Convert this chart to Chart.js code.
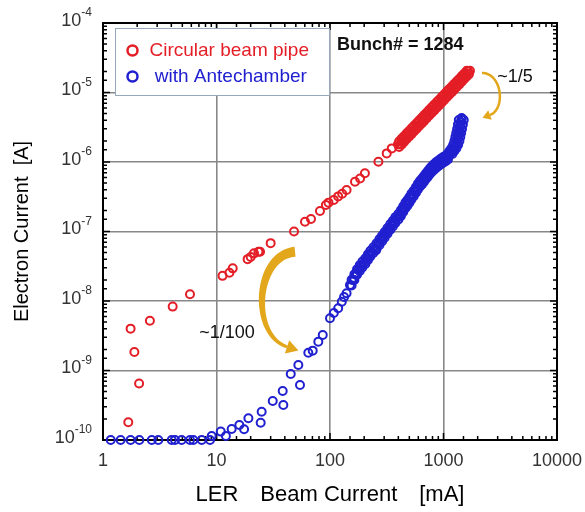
<!DOCTYPE html>
<html>
<head>
<meta charset="utf-8">
<script src="https://cdn.jsdelivr.net/npm/chart.js@4.4.0/dist/chart.umd.min.js"></script>
<style>
    body { margin: 0; background: #fff; }
</style>
</head>
<body>
<canvas id="chart" width="585" height="512"></canvas>
<script>
// circular beam pipe (red)
let circularX = [1.67, 1.75, 1.89, 2.08, 2.59, 4.11, 5.84, 11.3, 13.0, 13.9, 18.8, 20.0, 21.4, 23.4, 24.2, 30.0, 48.2,
    60.2, 68, 81.6, 92, 97, 108, 118, 128, 140, 166, 184, 203, 267, 316, 350,
    397, 418, 440, 462, 487, 512, 538, 566, 596, 627, 659, 694, 730, 768, 807, 851, 895, 942, 990, 1042,
    1096, 1153, 1213, 1276, 1343, 1413, 1486, 1563, 1644, 1711,
    430, 475, 525, 580, 640, 710, 790, 870, 965, 1070, 1180, 1310, 1450, 1600,
    407, 429, 451, 474, 499, 525, 552, 581, 611, 643, 676, 712, 749, 787, 829, 873, 918, 966, 1016, 1069,
    1124, 1183, 1244, 1309, 1378, 1449, 1524, 1603,
    407, 429, 451, 474, 499, 525, 552, 581, 611, 643, 676, 712, 749, 787, 829, 873, 918, 966, 1016, 1069,
    1124, 1183, 1244, 1309, 1378, 1449, 1524, 1603, 1677]
let circularY = [1.8e-10, 4.0e-9, 1.85e-9, 6.5e-10, 5.2e-9, 8.3e-9, 1.25e-8, 2.3e-8, 2.55e-8, 2.95e-8, 4.0e-8, 4.3e-8, 4.85e-8, 5.1e-8, 5.1e-8, 6.8e-8, 1.0e-7,
    1.38e-7, 1.51e-7, 1.97e-7, 2.4e-7, 2.6e-7, 2.85e-7, 3.2e-7, 3.5e-7, 3.95e-7, 5.2e-7, 5.8e-7, 6.9e-7, 1.01e-6, 1.33e-6, 1.57e-6,
    1.80e-6, 1.78e-6, 2.15e-6, 2.12e-6, 2.60e-6, 2.55e-6, 3.10e-6, 3.02e-6, 3.68e-6, 3.60e-6, 4.35e-6, 4.28e-6, 5.20e-6, 5.10e-6, 6.15e-6, 6.05e-6, 7.30e-6, 7.20e-6, 8.70e-6, 8.55e-6,
    1.03e-5, 1.01e-5, 1.22e-5, 1.20e-5, 1.45e-5, 1.44e-5, 1.72e-5, 1.71e-5, 2.03e-5, 2.05e-5,
    1.98e-6, 2.40e-6, 2.80e-6, 3.30e-6, 3.95e-6, 4.70e-6, 5.55e-6, 6.60e-6, 7.95e-6, 9.30e-6, 1.12e-5, 1.31e-5, 1.58e-5, 1.86e-5,
    1.99e-6, 2.17e-6, 2.37e-6, 2.59e-6, 2.82e-6, 3.07e-6, 3.36e-6, 3.65e-6, 3.98e-6, 4.33e-6, 4.73e-6, 5.17e-6, 5.63e-6, 6.14e-6, 6.69e-6, 7.29e-6, 7.95e-6, 8.67e-6, 9.45e-6, 1.03e-5,
    1.12e-5, 1.22e-5, 1.33e-5, 1.45e-5, 1.58e-5, 1.73e-5, 1.88e-5, 2.06e-5,
    1.65e-6, 1.79e-6, 1.96e-6, 2.14e-6, 2.33e-6, 2.54e-6, 2.78e-6, 3.02e-6, 3.29e-6, 3.59e-6, 3.91e-6, 4.28e-6, 4.66e-6, 5.08e-6, 5.53e-6, 6.03e-6, 6.58e-6, 7.17e-6, 7.82e-6, 8.52e-6,
    9.28e-6, 1.01e-5, 1.10e-5, 1.20e-5, 1.31e-5, 1.43e-5, 1.56e-5, 1.70e-5, 1.84e-5]

// with antechamber (blue)
let antechamberX = [1.17, 1.43, 1.75, 2.09, 2.69, 3.07, 4.03, 4.31, 4.93, 5.84, 6.25, 7.41, 8.77,
    9.07, 10.9, 12.1, 13.6, 15.9, 17.5, 19.1, 24.5, 25.0, 31.3, 38.3, 38.8, 45.1, 52.6, 54.4, 64.4, 70.4, 78.9, 86.3,
    100, 108, 118, 127, 133, 140, 150, 160, 169, 178, 188, 199, 211, 221, 234, 249, 265, 281, 295, 311, 331, 350, 366, 389,
    414, 431, 453, 472, 490, 512, 533, 561, 584, 608, 634, 664, 687, 716, 745, 776, 808, 841, 885, 931, 970, 1021, 1074,
    1117, 1164, 1213, 1262, 1302, 1329, 1349, 1377, 1397, 1426, 1446,
    255, 290, 325, 360, 400, 440, 480, 520, 570, 620, 675, 730, 790, 860, 950, 1045, 1140, 1240, 1315, 1360, 1410, 1440,
    155, 164, 173, 183, 193, 205, 216, 227, 241, 257, 273, 288, 303, 321, 340, 358, 377, 401, 422, 442, 462,
    481, 501, 522, 547, 572, 596, 621, 649, 675, 701, 730, 760, 792, 824, 863, 908, 950, 995, 1047, 1095,
    155, 164, 173, 183, 193, 205, 216, 227, 241, 257, 273, 288, 303, 321, 340, 358, 377, 401, 422, 442, 462,
    481, 501, 522, 547, 572, 596, 621, 649, 675, 701, 730, 760, 792, 824, 863, 908, 950, 995, 1047, 1095,
    1197, 1247, 1299, 1346, 1381, 1406, 1431, 1456, 1482, 1508,
    1083, 1129, 1175, 1218, 1249, 1272, 1295, 1318, 1340, 1364]
let antechamberY = [1e-10, 1e-10, 1e-10, 1e-10, 1e-10, 1e-10, 1e-10, 1e-10, 1e-10, 1e-10, 1e-10, 1e-10, 1e-10,
    1.14e-10, 1.32e-10, 1.14e-10, 1.44e-10, 1.64e-10, 1.43e-10, 2.05e-10, 1.77e-10, 2.55e-10, 3.64e-10, 5.07e-10, 3.19e-10, 8.9e-10, 1.2e-9, 6.2e-10, 1.8e-9, 1.93e-9, 2.6e-9, 3.24e-9,
    5.64e-9, 6.72e-9, 7.85e-9, 9.77e-9, 1.14e-8, 1.29e-8, 1.70e-8, 2.00e-8, 2.45e-8, 2.79e-8, 3.19e-8, 3.52e-8, 3.98e-8, 4.59e-8, 5.07e-8, 5.73e-8, 6.61e-8, 7.55e-8, 8.41e-8, 9.51e-8, 1.09e-7, 1.24e-7, 1.37e-7, 1.56e-7,
    1.73e-7, 1.97e-7, 2.25e-7, 2.49e-7, 2.68e-7, 3.03e-7, 3.35e-7, 3.74e-7, 4.23e-7, 4.67e-7, 5.07e-7, 5.51e-7, 5.98e-7, 6.50e-7, 7.06e-7, 7.67e-7, 8.20e-7, 8.75e-7, 9.35e-7, 1.00e-6, 1.05e-6, 1.10e-6, 1.16e-6,
    1.24e-6, 1.37e-6, 1.51e-6, 1.66e-6, 1.88e-6, 2.14e-6, 2.44e-6, 2.79e-6, 3.19e-6, 3.77e-6, 4.30e-6,
    5.4e-8, 8.2e-8, 1.02e-7, 1.33e-7, 1.62e-7, 2.12e-7, 2.60e-7, 3.12e-7, 3.98e-7, 4.80e-7, 5.80e-7, 6.80e-7, 7.95e-7, 9.00e-7, 1.03e-6, 1.12e-6, 1.30e-6, 1.58e-6, 2.00e-6, 2.60e-6, 3.45e-6, 4.10e-6,
    2.02e-8, 2.43e-8, 2.87e-8, 3.28e-8, 3.69e-8, 4.11e-8, 4.70e-8, 5.30e-8, 5.93e-8, 6.77e-8, 7.77e-8, 8.77e-8, 9.83e-8, 1.12e-7, 1.28e-7, 1.43e-7, 1.61e-7, 1.80e-7, 2.04e-7, 2.31e-7, 2.61e-7,
    2.84e-7, 3.14e-7, 3.51e-7, 3.89e-7, 4.38e-7, 4.88e-7, 5.36e-7, 5.82e-7, 6.31e-7, 6.86e-7, 7.45e-7, 8.10e-7, 8.72e-7, 9.32e-7, 9.96e-7, 1.06e-6, 1.12e-6, 1.18e-6, 1.24e-6, 1.32e-6,
    1.67e-8, 2.01e-8, 2.38e-8, 2.71e-8, 3.05e-8, 3.40e-8, 3.89e-8, 4.39e-8, 4.90e-8, 5.60e-8, 6.42e-8, 7.25e-8, 8.14e-8, 9.28e-8, 1.06e-7, 1.18e-7, 1.33e-7, 1.49e-7, 1.68e-7, 1.91e-7, 2.16e-7,
    2.35e-7, 2.59e-7, 2.90e-7, 3.22e-7, 3.62e-7, 4.04e-7, 4.43e-7, 4.81e-7, 5.22e-7, 5.68e-7, 6.16e-7, 6.70e-7, 7.22e-7, 7.71e-7, 8.24e-7, 8.80e-7, 9.28e-7, 9.74e-7, 1.03e-6, 1.09e-6,
    1.30e-6, 1.44e-6, 1.58e-6, 1.77e-6, 2.01e-6, 2.29e-6, 2.61e-6, 2.98e-6, 3.47e-6, 4.03e-6,
    1.30e-6, 1.44e-6, 1.58e-6, 1.77e-6, 2.01e-6, 2.29e-6, 2.61e-6, 2.98e-6, 3.47e-6, 4.03e-6]

let seriesNames = ["Circular beam pipe", " with Antechamber"]
let seriesColors = ["#e41e26", "#2020d0"]
let xTickLabels = [1, 10, 100, 1000, 10000]
let yTickExps = [-10, -9, -8, -7, -6, -5, -4]

const FONT = '"Liberation Sans", Arial, "Noto Sans CJK JP", sans-serif'
const GOLD = "#e3a71c"

function isDecade(v) {
    let l = Math.log10(v)
    return Math.abs(l - Math.round(l)) < 1e-6
}

function toPoints(xs, ys) {
    return xs.map((x, i) => ({ x: x, y: ys[i] }))
}

function bez(p0, c1, c2, p3, t) {
    let u = 1 - t
    return [
        u*u*u*p0[0] + 3*u*u*t*c1[0] + 3*u*t*t*c2[0] + t*t*t*p3[0],
        u*u*u*p0[1] + 3*u*u*t*c1[1] + 3*u*t*t*c2[1] + t*t*t*p3[1]
    ]
}

// curved arrow, tapering from w0 to w1, with a head at the end
function drawArrow(ctx, ox, oy, pts, w0, w1, headLen, headHalf) {
    let p0 = [ox + pts[0][0], oy + pts[0][1]]
    let c1 = [ox + pts[1][0], oy + pts[1][1]]
    let c2 = [ox + pts[2][0], oy + pts[2][1]]
    let p3 = [ox + pts[3][0], oy + pts[3][1]]
    let left = [], right = []
    let n = 40
    for (let i = 0; i <= n; i++) {
        let t = i / n
        let a = bez(p0, c1, c2, p3, Math.max(0, t - 0.01))
        let b = bez(p0, c1, c2, p3, Math.min(1, t + 0.01))
        let p = bez(p0, c1, c2, p3, t)
        let dx = b[0] - a[0], dy = b[1] - a[1]
        let len = Math.hypot(dx, dy) || 1
        let nx = -dy / len, ny = dx / len
        let w = (w0 + (w1 - w0) * t) / 2
        left.push([p[0] + nx * w, p[1] + ny * w])
        right.push([p[0] - nx * w, p[1] - ny * w])
    }
    ctx.beginPath()
    left.forEach((p, i) => i === 0 ? ctx.moveTo(p[0], p[1]) : ctx.lineTo(p[0], p[1]))
    for (let i = right.length - 1; i >= 0; i--) ctx.lineTo(right[i][0], right[i][1])
    ctx.closePath()
    ctx.fill()

    let dx = p3[0] - c2[0], dy = p3[1] - c2[1]
    let len = Math.hypot(dx, dy)
    dx /= len; dy /= len
    ctx.beginPath()
    ctx.moveTo(p3[0] + dx * headLen, p3[1] + dy * headLen)
    ctx.lineTo(p3[0] - dy * headHalf, p3[1] + dx * headHalf)
    ctx.lineTo(p3[0] + dy * headHalf, p3[1] - dx * headHalf)
    ctx.closePath()
    ctx.fill()
}

const framePlugin = {
    id: "frame",
    beforeDatasetsDraw(chart) {
        let ctx = chart.ctx
        let a = chart.chartArea
        let xs = chart.scales.x, ys = chart.scales.y
        ctx.save()
        ctx.strokeStyle = "#000"
        ctx.lineWidth = 1.5
        ctx.beginPath()
        xs.ticks.forEach(t => {
            let px = xs.getPixelForValue(t.value)
            let len = isDecade(t.value) ? 7 : 4
            ctx.moveTo(px, a.bottom); ctx.lineTo(px, a.bottom - len)
            ctx.moveTo(px, a.top); ctx.lineTo(px, a.top + len)
        })
        ys.ticks.forEach(t => {
            let py = ys.getPixelForValue(t.value)
            let len = isDecade(t.value) ? 7 : 4
            ctx.moveTo(a.left, py); ctx.lineTo(a.left + len, py)
            ctx.moveTo(a.right, py); ctx.lineTo(a.right - len, py)
        })
        ctx.stroke()
        ctx.lineWidth = 2
        ctx.strokeRect(a.left, a.top, a.right - a.left, a.bottom - a.top)

        // y tick labels as 10 with a superscript
        ctx.fillStyle = "#333"
        ctx.textBaseline = "middle"
        yTickExps.forEach(e => {
            let py = ys.getPixelForValue(Math.pow(10, e))
            let sup = String(e)
            ctx.font = "12px " + FONT
            let sw = ctx.measureText(sup).width
            let xr = a.left - 11
            ctx.textAlign = "right"
            ctx.fillText(sup, xr, py - 10)
            ctx.font = "18px " + FONT
            ctx.fillText("10", xr - sw, py - 2)
        })
        ctx.restore()
    },
    afterDatasetsDraw(chart) {
        let ctx = chart.ctx
        let a = chart.chartArea
        let xs = chart.scales.x, ys = chart.scales.y
        ctx.save()

        // legend box
        let lx = a.left + 12.5, ly = a.top + 5.5
        ctx.fillStyle = "#fff"
        ctx.fillRect(lx, ly, 214, 67)
        ctx.strokeStyle = "#98a8bc"
        ctx.lineWidth = 1
        ctx.strokeRect(lx, ly, 214, 67)
        ctx.font = "19px " + FONT
        ctx.textAlign = "left"
        ctx.textBaseline = "middle"
        chart.data.datasets.forEach((ds, i) => {
            let cy = ly + 22 + i * 26
            ctx.strokeStyle = ds.borderColor
            ctx.lineWidth = 2.5
            ctx.beginPath()
            ctx.arc(lx + 17, cy, 5, 0, Math.PI * 2)
            ctx.stroke()
            ctx.fillStyle = ds.borderColor
            ctx.fillText(ds.label, lx + 34, cy)
        })

        // annotations
        ctx.fillStyle = "#111"
        ctx.font = "bold 18px " + FONT
        ctx.fillText("Bunch# = 1284", xs.getPixelForValue(115), ys.getPixelForValue(4.8e-5))
        ctx.font = "18px " + FONT
        ctx.textAlign = "center"
        ctx.fillText("~1/100", xs.getPixelForValue(12.4), ys.getPixelForValue(3.47e-9))
        ctx.fillText("~1/5", xs.getPixelForValue(4266), ys.getPixelForValue(1.67e-5))

        ctx.fillStyle = GOLD
        drawArrow(ctx, xs.getPixelForValue(49.2), ys.getPixelForValue(5.1e-8),
            [[0, 0], [-40, 3], [-45, 83], [-8, 95]], 10, 3, 12, 7)
        drawArrow(ctx, xs.getPixelForValue(2184), ys.getPixelForValue(1.91e-5),
            [[0, 0], [20, 0], [24, 36], [8, 42]], 2.5, 2.5, 8, 5)
        ctx.restore()
    }
}

let gridColor = ctx => isDecade(ctx.tick.value) ? "#888" : "rgba(0,0,0,0)"

new Chart(document.getElementById("chart"), {
    type: "scatter",
    data: {
        datasets: [
            {
                label: seriesNames[0],
                data: toPoints(circularX, circularY),
                borderColor: seriesColors[0],
                backgroundColor: "rgba(0,0,0,0)",
                pointRadius: 4,
                borderWidth: 2,
                clip: false
            },
            {
                label: seriesNames[1],
                data: toPoints(antechamberX, antechamberY),
                borderColor: seriesColors[1],
                backgroundColor: "rgba(0,0,0,0)",
                pointRadius: 4,
                borderWidth: 2,
                clip: false
            }
        ]
    },
    options: {
        responsive: false,
        animation: false,
        devicePixelRatio: 1,
        layout: { padding: { top: 23, right: 28, left: 0, bottom: 0 } },
        plugins: {
            legend: { display: false },
            tooltip: { enabled: false }
        },
        scales: {
            x: {
                type: "logarithmic",
                min: 1,
                max: 10000,
                border: { display: false },
                grid: { color: gridColor, lineWidth: 1.6, drawTicks: false },
                ticks: {
                    autoSkip: false,
                    maxRotation: 0,
                    padding: 10,
                    color: "#333",
                    font: { family: FONT, size: 18 },
                    callback: v => xTickLabels.includes(v) ? String(v) : ""
                },
                title: {
                    display: true,
                    text: "LER\u3000Beam Current\u3000[mA]",
                    color: "#000",
                    font: { family: FONT, size: 22 },
                    padding: { top: 0, bottom: 4 }
                },
                afterFit: s => { s.height = 72; s.paddingLeft = 0; s.paddingRight = 0 }
            },
            y: {
                type: "logarithmic",
                min: 1e-10,
                max: 1e-4,
                border: { display: false },
                grid: { color: gridColor, lineWidth: 1.6, drawTicks: false },
                ticks: { display: false },
                title: {
                    display: true,
                    text: "Electron Current  [A]",
                    color: "#000",
                    font: { family: FONT, size: 20 },
                    padding: { top: 10, bottom: 0 }
                },
                afterFit: s => { s.width = 103; s.paddingTop = 0; s.paddingBottom = 0 }
            }
        }
    },
    plugins: [framePlugin]
})
</script>
</body>
</html>
